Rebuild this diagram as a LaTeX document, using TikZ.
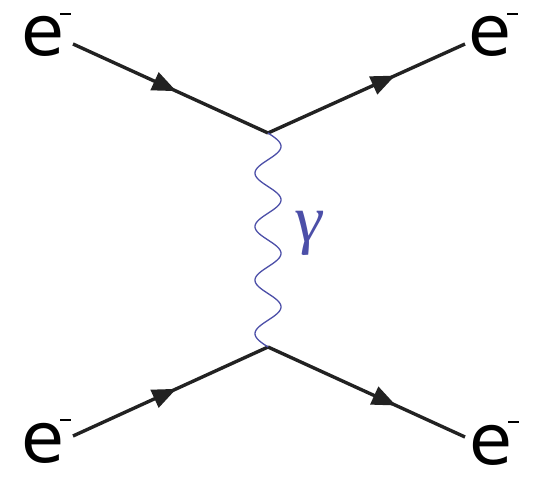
\documentclass[tikz,border=0pt]{standalone}
\usepackage{fontspec}
\setmainfont{DejaVu Sans}
\newfontfamily\gammafont[FakeSlant=0.12]{Liberation Serif}
\usetikzlibrary{decorations.markings,arrows.meta}
\definecolor{fermcol}{HTML}{222222}
\definecolor{photcol}{HTML}{4C4FA8}
\begin{document}
\begin{tikzpicture}[x=1pt,y=-1pt,
  elabel/.style={inner sep=0pt,anchor=base west,font=\fontsize{70}{80}\selectfont},
  fermion/.style={draw=fermcol,line width=3.4pt},
  arrowat/.style={postaction={decorate,decoration={markings,
      mark=at position #1 with {\arrow[fermcol]{Triangle[length=24pt,width=19pt]}}}}},
  photon/.style={draw=photcol,line width=1.3pt}]
\useasboundingbox (0,0) rectangle (540,478);
\newcommand{\elec}{e\hspace{-4pt}\raisebox{41pt}{\rule{11pt}{2pt}}}
\node[elabel] (etl) at (21,56) {\elec};
\node[elabel] (etr) at (468,56) {\elec};
\node[elabel] (ebl) at (21,462) {\elec};
\node[elabel] (ebr) at (469,464) {\elec};
\coordinate (ptl) at (73,44);
\coordinate (ptr) at (465,44);
\coordinate (pbl) at (73,436);
\coordinate (pbr) at (465,437);
\coordinate (vt) at (268,133);
\coordinate (vb) at (268,347);
\draw[fermion,arrowat=0.53] (ptl) -- (vt);
\draw[fermion,arrowat=0.645] (vt) -- (ptr);
\draw[fermion,arrowat=0.53] (pbl) -- (vb);
\draw[fermion,arrowat=0.65] (vb) -- (pbr);
\draw[photon,shift={(vt)}] plot[domain=0:214,samples=200,smooth] ({13*sin(6.72897*\x)},\x);
\node[inner sep=0pt,anchor=base west,text=photcol,font=\gammafont\fontsize{66}{70}\selectfont] (gam) at (292,241) {γ};
\end{tikzpicture}
\end{document}
